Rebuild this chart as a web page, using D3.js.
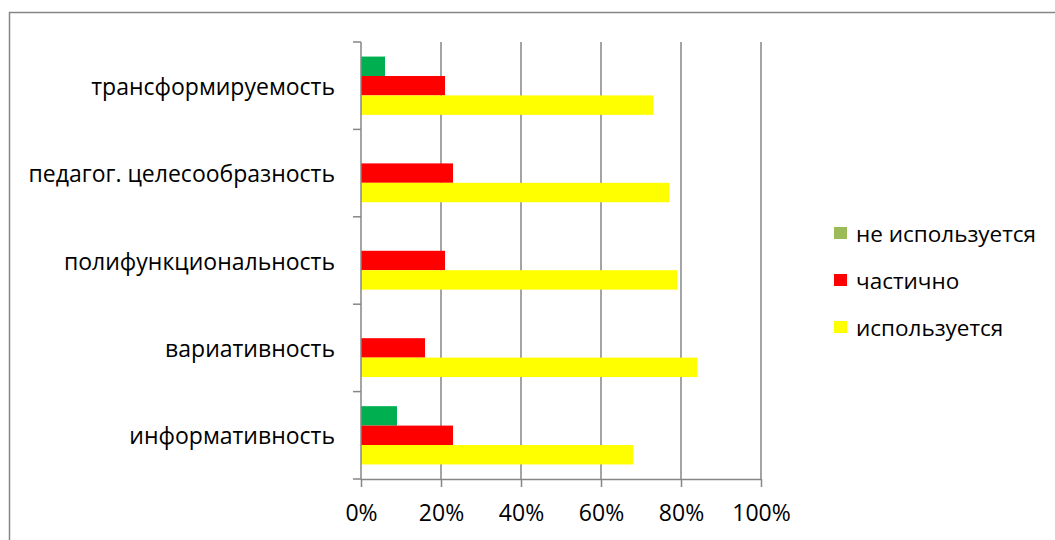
<!DOCTYPE html>
<html>
<head>
<meta charset="utf-8">
<script src="https://cdn.jsdelivr.net/npm/d3@7"></script>
<style>
html,body{margin:0;padding:0;background:#fff;overflow:hidden;}
svg{display:block;}
text{font-family:"Open Sans",sans-serif;fill:#000;}
</style>
</head>
<body>
<svg id="chart" width="1055" height="540"></svg>
<script>
const categories = ["информативность","вариативность","полифункциональность","педагог. целесообразность","трансформируемость"];
const notUsed = [0.09, 0, 0, 0, 0.06];
const partial = [0.23, 0.16, 0.21, 0.23, 0.21];
const used = [0.68, 0.84, 0.79, 0.77, 0.73];
const seriesNames = ["не используется","частично","используется"];
const barColors = ["#00B050","#FF0000","#FFFF00"];
const legendColors = ["#9BBB59","#FF0000","#FFFF00"];
const xTicks = [0,0.2,0.4,0.6,0.8,1.0];

(function(){
const svg = d3.select("#chart");
const grid = "#868686";

svg.append("path").attr("d","M1056,12.5 H9.5 V541").attr("fill","none").attr("stroke",grid).attr("stroke-width",1.5);

const pLeft=361, pRight=761, pTop=42, pBottom=479;
const x = d3.scaleLinear().domain([0,1]).range([pLeft,pRight]);
const y0 = d3.scaleBand().domain(categories.slice().reverse()).range([pTop,pBottom]).paddingInner(1/3).paddingOuter(1/6);
const y1 = d3.scaleBand().domain([0,1,2]).range([0,y0.bandwidth()]);

svg.append("g").selectAll("line").data(xTicks.slice(1)).join("line")
  .attr("x1",d=>x(d)).attr("x2",d=>x(d)).attr("y1",pTop).attr("y2",pBottom)
  .attr("stroke",grid).attr("stroke-width",1.5);

const series = [notUsed, partial, used];
const data = [];
categories.forEach((c,i)=>series.forEach((s,j)=>data.push({c, j, v:s[i]})));
svg.append("g").selectAll("rect").data(data.filter(d=>d.v>0)).join("rect")
  .attr("x",x(0)).attr("y",d=>y0(d.c)+y1(d.j))
  .attr("width",d=>x(d.v)-x(0)).attr("height",y1.bandwidth())
  .attr("fill",d=>barColors[d.j]);

const xAxis = d3.axisBottom(x).tickValues(xTicks).tickFormat(d3.format(".0%")).tickSize(8).tickPadding(18);
const gx = svg.append("g").attr("transform",`translate(0,${pBottom})`).call(xAxis);
gx.select(".domain").attr("stroke",grid).attr("stroke-width",1.5).attr("d",`M${pLeft},0.5H${pRight}`);
gx.selectAll(".tick line").attr("stroke",grid).attr("stroke-width",1.5);
gx.selectAll("text").style("font-size","23px").style("font-family","'Open Sans',sans-serif").attr("fill","#000");

const bounds = d3.range(categories.length+1).map(i=>pTop+(pBottom-pTop)*i/categories.length);
svg.append("line").attr("x1",pLeft).attr("x2",pLeft).attr("y1",pTop).attr("y2",pBottom).attr("stroke",grid).attr("stroke-width",1.5);
svg.append("g").selectAll("line").data(bounds).join("line")
  .attr("x1",pLeft-8).attr("x2",pLeft).attr("y1",d=>d).attr("y2",d=>d)
  .attr("stroke",grid).attr("stroke-width",1.5);
svg.append("g").selectAll("text").data(categories).join("text")
  .attr("x",335).attr("y",d=>y0(d)+y0.bandwidth()/2)
  .attr("text-anchor","end").attr("dominant-baseline","central")
  .style("font-size","23px").text(d=>d);

const lg = svg.append("g");
seriesNames.forEach((n,i)=>{
  const cy = 233 + i*47;
  lg.append("rect").attr("x",834).attr("y",cy-6).attr("width",13).attr("height",12).attr("fill",legendColors[i]);
  lg.append("text").attr("x",856).attr("y",cy).attr("dominant-baseline","central").style("font-size","22.5px").text(n);
});
})();
</script>
</body>
</html>
